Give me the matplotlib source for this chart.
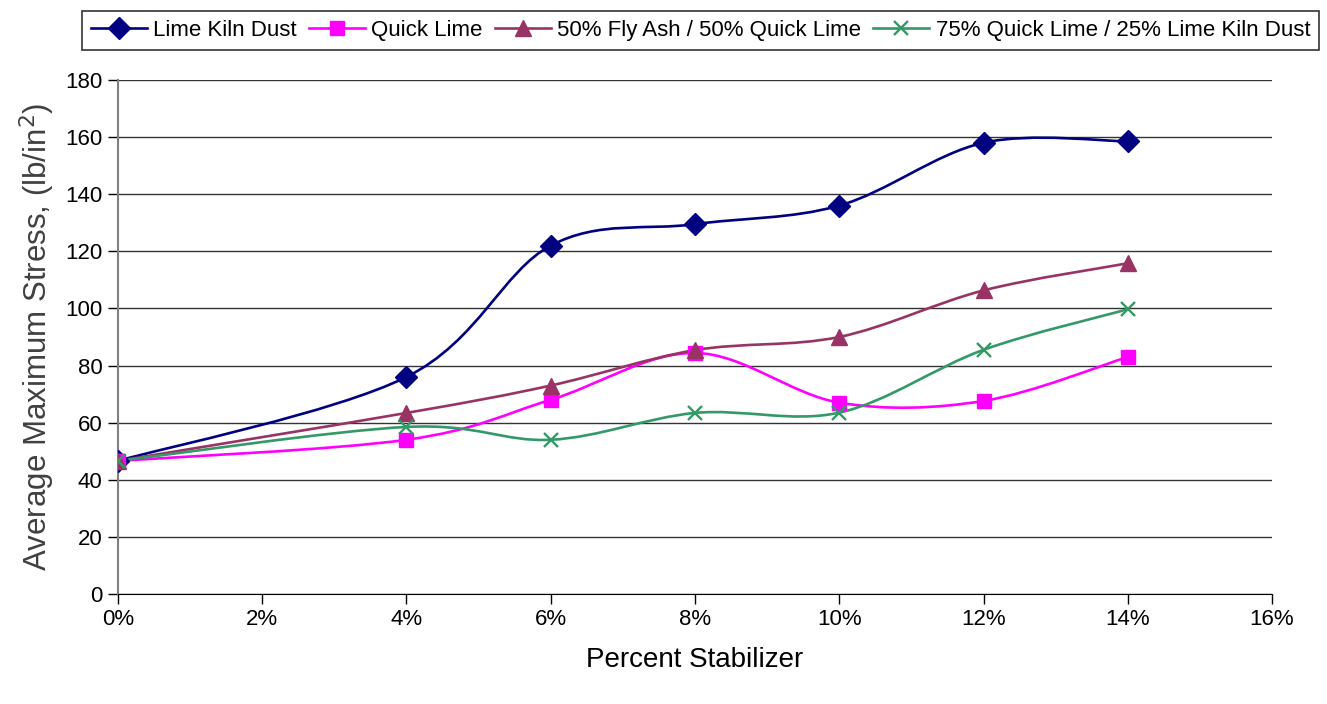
import numpy as np
import matplotlib.pyplot as plt
from matplotlib.path import Path
from matplotlib.patches import PathPatch
from matplotlib.lines import Line2D
from matplotlib.ticker import FuncFormatter

plt.rcParams['font.family'] = ['Liberation Sans', 'DejaVu Sans']

percent = [0, 4, 6, 8, 10, 12, 14]
lime_kiln_dust = [46.6, 76.0, 122.0, 129.5, 136.0, 158.0, 158.5]
quick_lime = [46.6, 54.0, 68.0, 84.4, 67.0, 67.6, 83.0]
fly_ash_quick_lime = [46.6, 63.4, 73.0, 85.4, 90.0, 106.3, 115.8]
quick_lime_kiln_dust = [46.6, 58.5, 54.0, 63.4, 63.5, 85.5, 99.7]

series = [
    ("Lime Kiln Dust", lime_kiln_dust, "#000080", "D", 11),
    ("Quick Lime", quick_lime, "#FF00FF", "s", 10),
    ("50% Fly Ash / 50% Quick Lime", fly_ash_quick_lime, "#993366", "^", 11),
    ("75% Quick Lime / 25% Lime Kiln Dust", quick_lime_kiln_dust, "#339966", "x", 10),
]


def smooth_path(x, y):
    # spreadsheet-style smoothed line: cubic bezier through each point
    pts = np.column_stack([x, y]).astype(float)
    n = len(pts)
    verts = [pts[0]]
    codes = [Path.MOVETO]
    for i in range(n - 1):
        p0 = pts[i - 1] if i > 0 else pts[i]
        p1 = pts[i]
        p2 = pts[i + 1]
        p3 = pts[i + 2] if i + 2 < n else pts[i + 1]
        c1 = p1 + (p2 - p0) / 6.0
        c2 = p2 - (p3 - p1) / 6.0
        verts += [c1, c2, p2]
        codes += [Path.CURVE4] * 3
    return Path(verts, codes)


fig = plt.figure(figsize=(13.27, 7.04), dpi=100)
ax = fig.add_axes([0.0889, 0.15625, 0.8697, 0.7302])

lw = 1.9
handles = []
for name, vals, color, marker, ms in series:
    patch = PathPatch(smooth_path(percent, vals), facecolor="none",
                      edgecolor=color, lw=lw, zorder=3)
    ax.add_patch(patch)
    if marker == "x":
        ax.plot(percent, vals, ls="none", marker=marker, ms=ms, mew=1.7,
                color=color, zorder=4)
    else:
        ax.plot(percent, vals, ls="none", marker=marker, ms=ms,
                color=color, mec=color, zorder=4)
    handles.append(Line2D([], [], color=color, lw=lw, marker=marker,
                          ms=ms, mew=1.7 if marker == "x" else 1.0,
                          label=name))

ax.set_xlim(0, 16)
ax.set_ylim(0, 180)
ax.set_xticks(np.arange(0, 17, 2))
ax.set_yticks(np.arange(0, 181, 20))
ax.xaxis.set_major_formatter(FuncFormatter(lambda v, p: f"{v:.0f}%"))
ax.grid(axis="y", color="#333333", lw=1.0)
ax.set_axisbelow(True)

for side in ("top", "right"):
    ax.spines[side].set_visible(False)
ax.spines["left"].set_color("#808080")
ax.spines["left"].set_linewidth(1.5)
ax.spines["bottom"].set_color("#000000")
ax.tick_params(axis="both", direction="out", length=7, width=1,
               labelsize=16, pad=4)

ax.set_xlabel("Percent Stabilizer", fontsize=20, labelpad=12)
ax.set_ylabel("Average Maximum Stress, (lb/in$^2$)", fontsize=22.5,
              color="#404040", labelpad=6)

leg = fig.legend(handles=handles, loc="upper center",
                 bbox_to_anchor=(0.528, 1.0), ncol=4, fontsize=16,
                 frameon=True, fancybox=False, edgecolor="black",
                 handlelength=2.5, handletextpad=0.3, columnspacing=0.55,
                 borderpad=0.4)
leg.get_frame().set_linewidth(1.2)

fig.savefig("out.png", dpi=100)
